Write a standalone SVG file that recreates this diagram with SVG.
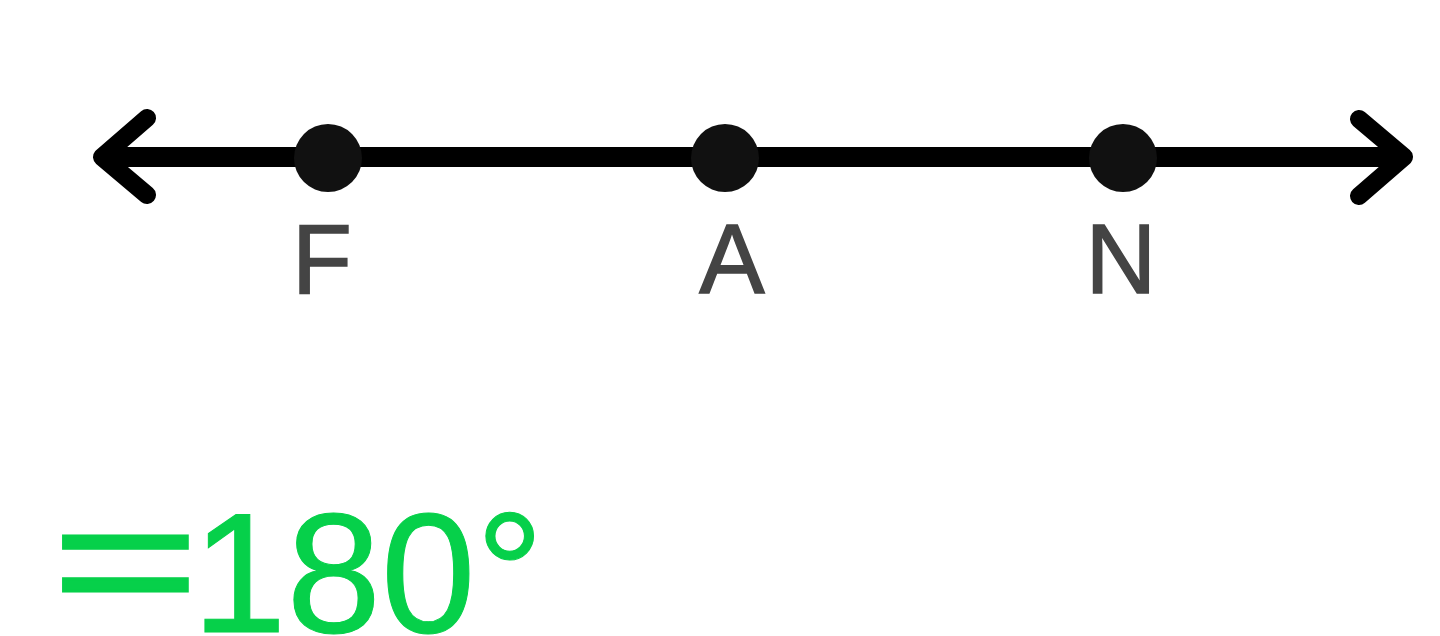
<svg xmlns="http://www.w3.org/2000/svg" width="1440" height="636" viewBox="0 0 1440 636">
  <style>
    .line { stroke: #000; stroke-width: 20; fill: none; }
    .dot { fill: #111; }
    .lbl { font-family: "Liberation Sans", Arial, sans-serif; font-size: 98px; fill: #444; stroke: #444; stroke-width: 1.5; text-anchor: middle; }
    .hand { font-family: "Liberation Sans", Arial, sans-serif; font-size: 170px; fill: #06d04a; stroke: #06d04a; stroke-width: 1; }
    .eq { stroke-width: 3; }
  </style>
  <defs>
    <marker id="chev" markerUnits="userSpaceOnUse" viewBox="-60 -50 72 100" markerWidth="72" markerHeight="100" refX="0" refY="0" orient="auto-start-reverse">
      <path d="M -45 -38 L 0 0 L -45 39" fill="none" stroke="#000" stroke-width="18" stroke-linecap="round" stroke-linejoin="round"/>
    </marker>
  </defs>
  <rect width="1440" height="636" fill="#fff"/>
  <g id="connectors">
    <line class="line" x1="102" y1="157" x2="1404" y2="157" marker-start="url(#chev)" marker-end="url(#chev)"/>
  </g>
  <g id="point-F">
    <circle class="dot" cx="328" cy="158" r="34"/>
    <text class="lbl" x="322" y="293">F</text>
  </g>
  <g id="point-A">
    <circle class="dot" cx="725" cy="158" r="34"/>
    <text class="lbl" x="732" y="293">A</text>
  </g>
  <g id="point-N">
    <circle class="dot" cx="1123" cy="158" r="34"/>
    <text class="lbl" x="1121" y="293">N</text>
  </g>
  <g id="annotation">
    <text class="hand eq" transform="translate(52,620) scale(1.48,1)" x="0" y="0">=</text>
    <text class="hand" x="192" y="632">180°</text>
  </g>
</svg>
